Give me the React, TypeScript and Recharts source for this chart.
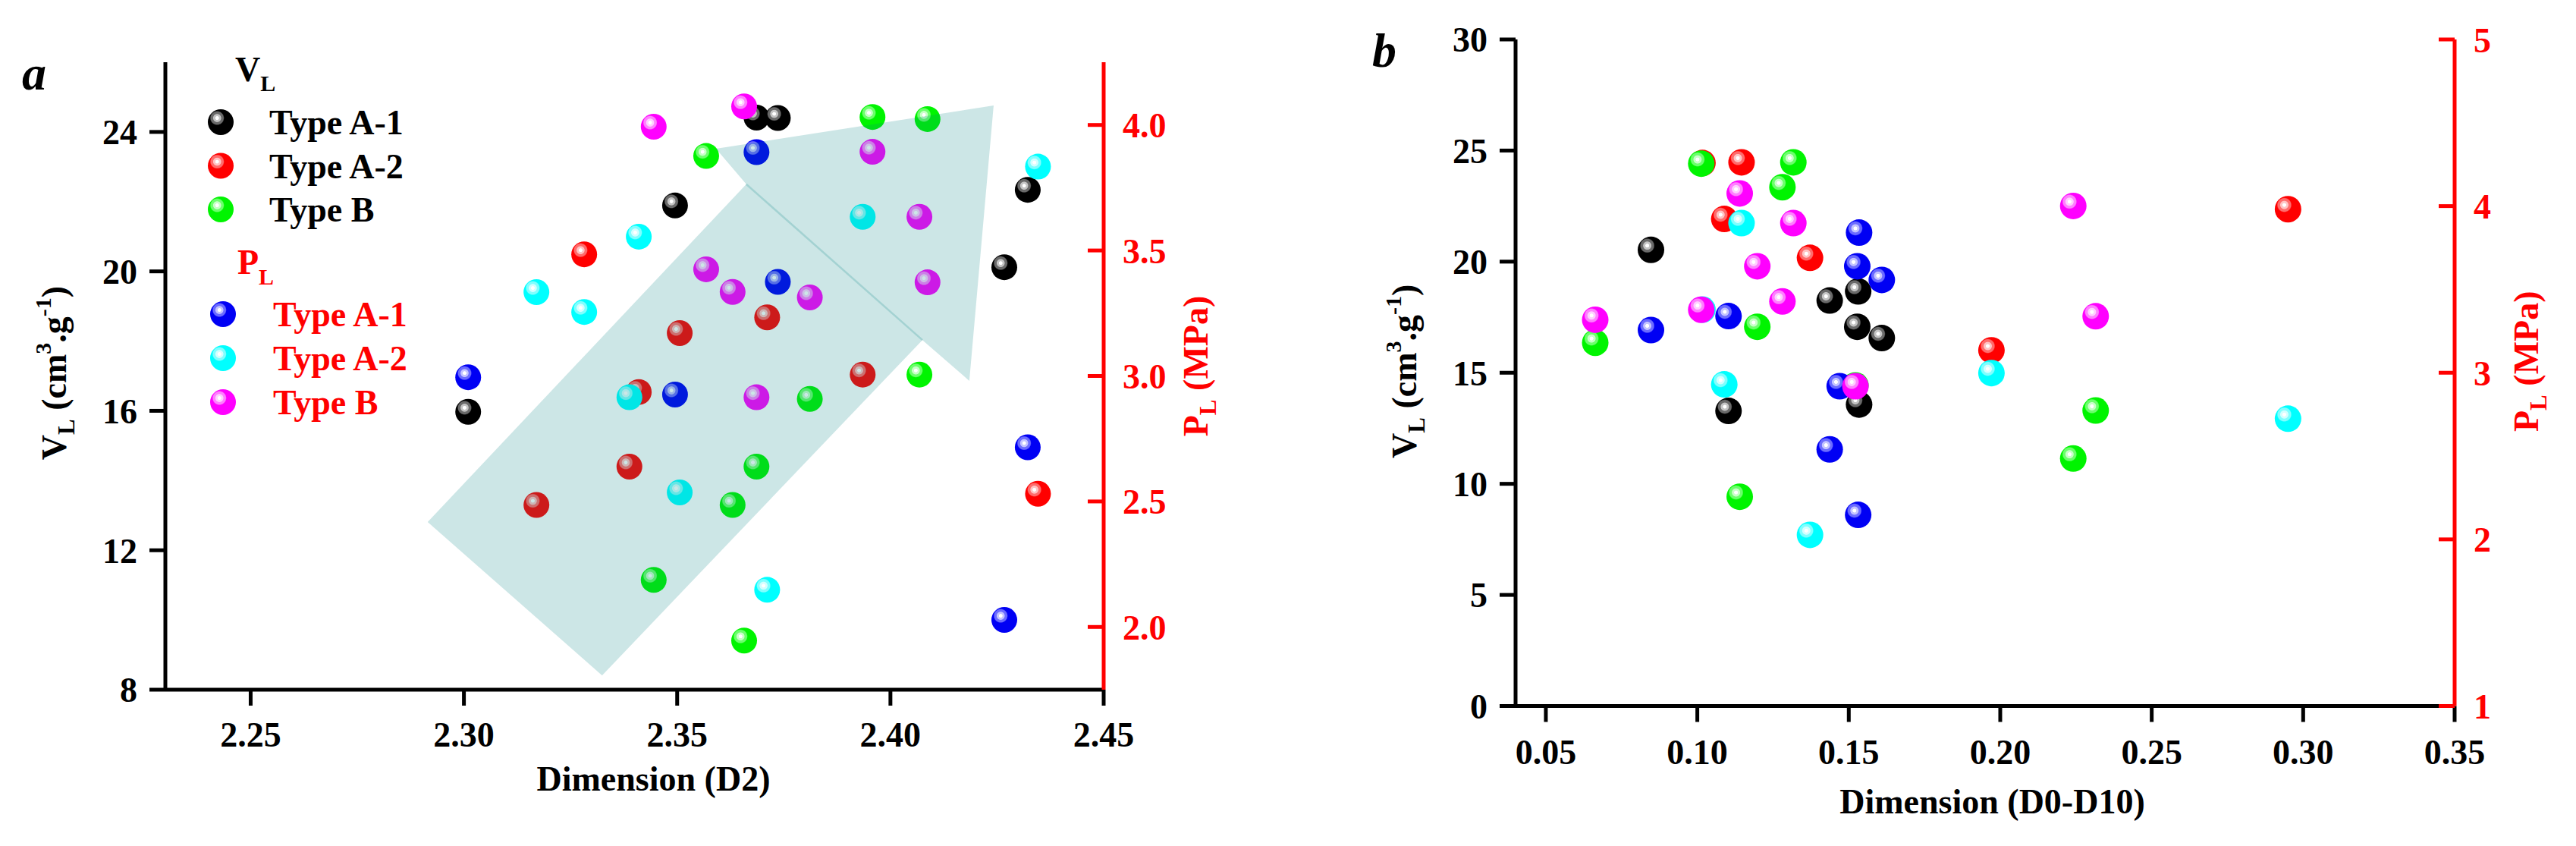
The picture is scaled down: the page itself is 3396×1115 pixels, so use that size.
import React from "react";
import { Legend, Scatter, ScatterChart, XAxis, YAxis } from "recharts";

const FONT = "'Liberation Serif', 'Times New Roman', Times, serif";
const RED = "#ff0000";

// ---------- panel a : Dimension (D2) ----------
const aD2TypeA1 = [2.301, 2.3495, 2.3686, 2.3736, 2.4267, 2.4322];
const aVlTypeA1 = [15.97, 21.89, 24.41, 24.4, 20.12, 22.34];
const aPlTypeA1 = [2.995, 2.926, 3.892, 3.375, 2.028, 2.716];

const aD2TypeA2 = [2.317, 2.3282, 2.3388, 2.341, 2.3506, 2.3711, 2.3935, 2.4346];
const aVlTypeA2 = [13.3, 20.49, 14.4, 16.54, 18.23, 18.68, 17.04, 13.62];
const aPlTypeA2 = [3.334, 3.255, 2.915, 3.555, 2.536, 2.148, 3.634, 3.834];

const aD2TypeB = [2.3445, 2.3568, 2.363, 2.3657, 2.3686, 2.3811, 2.3958, 2.4068, 2.4087];
const aVlTypeB = [11.15, 23.31, 13.3, 9.41, 14.4, 16.34, 24.43, 17.04, 24.37];
const aPlTypeB = [3.993, 3.425, 3.335, 4.074, 2.915, 3.313, 3.893, 3.634, 3.373];

const aTicksD2 = [2.25, 2.3, 2.35, 2.4, 2.45];
const aTicksVl = [8, 12, 16, 20, 24];
const aTicksPl = [2.0, 2.5, 3.0, 3.5, 4.0];

// outline of the shaded trend arrow, in (D2, VL) units
const arrowD2 = [2.2915, 2.3662, 2.3591, 2.4242, 2.4185, 2.4075, 2.3324];
const arrowVl = [12.81, 22.5, 23.52, 24.76, 16.86, 18.03, 8.41];

// ---------- panel b : Dimension (D0-D10) ----------
const bDimVlA1 = [0.0847, 0.1103, 0.1437, 0.1528, 0.1531, 0.1534, 0.1609];
const bVlA1 = [20.53, 13.28, 18.25, 17.07, 18.66, 13.57, 16.56];
const bDimPlA1 = [0.0847, 0.1103, 0.1437, 0.147, 0.1528, 0.1531, 0.1534, 0.1609];
const bPlA1 = [3.256, 3.34, 2.54, 2.919, 3.639, 2.147, 3.841, 3.557];

const bDimA2 = [0.1017, 0.1089, 0.1146, 0.1372, 0.1971, 0.295];
const bVlA2 = [24.44, 21.92, 24.47, 20.17, 16.01, 22.36];
const bPlA2 = [3.379, 2.93, 3.898, 2.027, 2.998, 2.724];

const bDimB = [0.0663, 0.1013, 0.114, 0.1198, 0.1281, 0.1317, 0.1522, 0.2241, 0.2315];
const bVlB = [16.35, 24.41, 9.42, 17.07, 23.35, 24.47, 14.43, 11.14, 13.3];
const bPlB = [3.318, 3.378, 4.076, 3.639, 3.428, 3.898, 2.919, 4.001, 3.339];

const bTicksDim = [0.05, 0.1, 0.15, 0.2, 0.25, 0.3, 0.35];
const bTicksVl = [0, 5, 10, 15, 20, 25, 30];
const bTicksPl = [1, 2, 3, 4, 5];

const typeNames = ["Type A-1", "Type A-2", "Type B"];
const vlSpheres = ["black", "red", "green"];
const plSpheres = ["blue", "cyan", "magenta"];

// base, mid ring, light ring
const sphereColors: Record<string, string[]> = {
  black: ["#000000", "#6a6a6a", "#c4c4c4"],
  red: ["#ff0000", "#ff6c6c", "#ffc4c4"],
  green: ["#00f400", "#6cff6c", "#c8ffc8"],
  blue: ["#0000f4", "#6c6cff", "#c4c4ff"],
  cyan: ["#00ffff", "#80ffff", "#d4ffff"],
  magenta: ["#ff00ff", "#ff80ff", "#ffd0ff"],
};

const pts = (xs: number[], ys: number[]) => xs.map((x, i) => ({ x, y: ys[i] }));

function SphereDefs() {
  return (
    <svg width={0} height={0} style={{ position: "absolute" }}>
      <defs>
        {Object.entries(sphereColors).map(([k, [base, mid, light]]) => (
          <radialGradient key={k} id={`sph-${k}`} cx="0.36" cy="0.34" r="0.62" fx="0.36" fy="0.34">
            <stop offset="0" stopColor="#ffffff" />
            <stop offset="0.1" stopColor="#ffffff" />
            <stop offset="0.13" stopColor={light} />
            <stop offset="0.23" stopColor={light} />
            <stop offset="0.27" stopColor={mid} />
            <stop offset="0.39" stopColor={mid} />
            <stop offset="0.45" stopColor={base} />
            <stop offset="1" stopColor={base} />
          </radialGradient>
        ))}
      </defs>
    </svg>
  );
}

const sphere = (k: string, r: number) => (p: any) =>
  p.cx == null ? <g /> : <circle cx={p.cx} cy={p.cy} r={r} fill={`url(#sph-${k})`} />;

const blackLine = { stroke: "#000", strokeWidth: 5 };
const blackTick = { fill: "#000", fontSize: 46, fontWeight: 700, fontFamily: FONT };

const redTick = (digits: number) => (p: any) => (
  <g>
    <line x1={p.x - 21} x2={p.x} y1={p.y} y2={p.y} stroke={RED} strokeWidth={5} />
    <text x={p.x + 25} y={p.y} dy="0.36em" textAnchor="start" fill={RED} fontSize={46} fontWeight={700} fontFamily={FONT}>
      {Number(p.payload.value).toFixed(digits)}
    </text>
  </g>
);

const xTitle = (text: string, dy: number, dx: number) => (p: any) => {
  const vb = p.viewBox;
  return (
    <text x={vb.x + vb.width / 2 + dx} y={vb.y + dy} textAnchor="middle" fill="#000" fontSize={46} fontWeight={700} fontFamily={FONT}>
      {text}
    </text>
  );
};

const vlTitle = (letter: string, dyc: number) => (p: any) => {
  const vb = p.viewBox;
  const bx = vb.x + vb.width - 131;
  const cy = vb.y + vb.height / 2 + dyc;
  return (
    <g>
      <text x={vb.x - 89} y={vb.y + 36} fill="#000" fontSize={64} fontStyle="italic" fontWeight={700} fontFamily={FONT}>
        {letter}
      </text>
      <text transform={`rotate(-90 ${bx} ${cy})`} x={bx} y={cy} textAnchor="middle" fill="#000" fontSize={46} fontWeight={700} fontFamily={FONT}>
        <tspan>V</tspan>
        <tspan fontSize={31} dy={11}>L</tspan>
        <tspan dy={-11}> (cm</tspan>
        <tspan fontSize={30} dy={-20}>3</tspan>
        <tspan dy={20}>.g</tspan>
        <tspan fontSize={30} dy={-20}>-1</tspan>
        <tspan dy={20}>)</tspan>
      </text>
    </g>
  );
};

const plTitle = (gap: number, dyc: number) => (p: any) => {
  const vb = p.viewBox;
  const bx = vb.x + gap;
  const cy = vb.y + vb.height / 2 + dyc;
  return (
    <text transform={`rotate(-90 ${bx} ${cy})`} x={bx} y={cy} textAnchor="middle" fill={RED} fontSize={46} fontWeight={700} fontFamily={FONT}>
      <tspan>P</tspan>
      <tspan fontSize={31} dy={11}>L</tspan>
      <tspan dy={-11}> (MPa)</tspan>
    </text>
  );
};

const arrowShape = (p: any) => {
  const v = p.points as { x: number; y: number }[];
  if (!v || v.length < 7) return <g />;
  return (
    <g>
      <polygon points={v.map((q) => `${q.x},${q.y}`).join(" ")} fill="#008080" fillOpacity={0.2} stroke="none" />
      <line x1={v[1].x} y1={v[1].y} x2={v[5].x} y2={v[5].y} stroke="#008080" strokeOpacity={0.2} strokeWidth={2.5} />
    </g>
  );
};

function PanelALegend() {
  const txt = { fontSize: 46, fontWeight: 700, fontFamily: FONT };
  return (
    <svg width={320} height={500} style={{ display: "block", overflow: "visible" }}>
      <text x={55} y={52} fill="#000" {...txt}>
        V<tspan fontSize={30} dy={13}>L</tspan>
      </text>
      {typeNames.map((name, i) => (
        <g key={`v${name}`}>
          <circle cx={36} cy={106 + i * 57.5} r={17} fill={`url(#sph-${vlSpheres[i]})`} />
          <text x={100} y={122 + i * 57.5} fill="#000" {...txt}>{name}</text>
        </g>
      ))}
      <text x={58} y={306} fill={RED} {...txt}>
        P<tspan fontSize={30} dy={14}>L</tspan>
      </text>
      {typeNames.map((name, i) => (
        <g key={`p${name}`}>
          <circle cx={39} cy={359 + i * 58} r={17} fill={`url(#sph-${plSpheres[i]})`} />
          <text x={105} y={375 + i * 58} fill={RED} {...txt}>{name}</text>
        </g>
      ))}
    </svg>
  );
}

function PanelA() {
  return (
    <ScatterChart width={1700} height={1115} margin={{ top: 82, right: 145, bottom: 146, left: 118 }}>
      <XAxis
        type="number"
        dataKey="x"
        domain={[2.23, 2.45]}
        ticks={aTicksD2}
        allowDataOverflow
        interval={0}
        height={60}
        tickFormatter={(v: number) => v.toFixed(2)}
        axisLine={blackLine}
        tickLine={blackLine}
        tickSize={21}
        tickMargin={21}
        tick={blackTick}
        label={xTitle("Dimension (D2)", 133, 25)}
      />
      <YAxis
        yAxisId="vl"
        type="number"
        dataKey="y"
        domain={[8, 26]}
        ticks={aTicksVl}
        allowDataOverflow
        interval={0}
        width={100}
        axisLine={blackLine}
        tickLine={blackLine}
        tickSize={21}
        tickMargin={16}
        tick={blackTick}
        label={vlTitle("a", -4)}
      />
      <YAxis
        yAxisId="pl"
        orientation="right"
        type="number"
        dataKey="y"
        domain={[1.75, 4.25]}
        ticks={aTicksPl}
        allowDataOverflow
        interval={0}
        width={100}
        axisLine={{ stroke: RED, strokeWidth: 5 }}
        tickLine={false}
        tickSize={0}
        tickMargin={0}
        tick={redTick(1)}
        label={plTitle(137, -13)}
      />
      <Scatter name="VL Type A-1" yAxisId="vl" data={pts(aD2TypeA1, aVlTypeA1)} shape={sphere("black", 17)} isAnimationActive={false} />
      <Scatter name="VL Type A-2" yAxisId="vl" data={pts(aD2TypeA2, aVlTypeA2)} shape={sphere("red", 17)} isAnimationActive={false} />
      <Scatter name="VL Type B" yAxisId="vl" data={pts(aD2TypeB, aVlTypeB)} shape={sphere("green", 17)} isAnimationActive={false} />
      <Scatter name="PL Type A-1" yAxisId="pl" data={pts(aD2TypeA1, aPlTypeA1)} shape={sphere("blue", 17)} isAnimationActive={false} />
      <Scatter name="PL Type A-2" yAxisId="pl" data={pts(aD2TypeA2, aPlTypeA2)} shape={sphere("cyan", 17)} isAnimationActive={false} />
      <Scatter name="PL Type B" yAxisId="pl" data={pts(aD2TypeB, aPlTypeB)} shape={sphere("magenta", 17)} isAnimationActive={false} />
      <Scatter
        name="trend"
        yAxisId="vl"
        data={pts(arrowD2, arrowVl)}
        shape={() => <g />}
        line={arrowShape}
        lineType="joint"
        legendType="none"
        isAnimationActive={false}
      />
      <Legend
        layout="vertical"
        align="center"
        verticalAlign="middle"
        wrapperStyle={{ left: 255, top: 55, width: 320, height: 500 }}
        content={() => <PanelALegend />}
      />
    </ScatterChart>
  );
}

function PanelB() {
  return (
    <ScatterChart width={1696} height={1115} margin={{ top: 52, right: 60, bottom: 124.5, left: 198 }}>
      <XAxis
        type="number"
        dataKey="x"
        domain={[0.04, 0.35]}
        ticks={bTicksDim}
        allowDataOverflow
        interval={0}
        height={60}
        tickFormatter={(v: number) => v.toFixed(2)}
        axisLine={blackLine}
        tickLine={blackLine}
        tickSize={21}
        tickMargin={23}
        tick={blackTick}
        label={xTitle("Dimension (D0-D10)", 141.5, 9.5)}
      />
      <YAxis
        yAxisId="vl"
        type="number"
        dataKey="y"
        domain={[0, 30]}
        ticks={bTicksVl}
        allowDataOverflow
        interval={0}
        width={100}
        axisLine={blackLine}
        tickLine={blackLine}
        tickSize={21}
        tickMargin={16}
        tick={blackTick}
        label={vlTitle("b", -2)}
      />
      <YAxis
        yAxisId="pl"
        orientation="right"
        type="number"
        dataKey="y"
        domain={[1, 5]}
        ticks={bTicksPl}
        allowDataOverflow
        interval={0}
        width={100}
        axisLine={{ stroke: RED, strokeWidth: 5 }}
        tickLine={false}
        tickSize={0}
        tickMargin={0}
        tick={redTick(0)}
        label={plTitle(110, -15)}
      />
      <Scatter name="VL Type A-1" yAxisId="vl" data={pts(bDimVlA1, bVlA1)} shape={sphere("black", 17.5)} isAnimationActive={false} />
      <Scatter name="VL Type A-2" yAxisId="vl" data={pts(bDimA2, bVlA2)} shape={sphere("red", 17.5)} isAnimationActive={false} />
      <Scatter name="VL Type B" yAxisId="vl" data={pts(bDimB, bVlB)} shape={sphere("green", 17.5)} isAnimationActive={false} />
      <Scatter name="PL Type A-1" yAxisId="pl" data={pts(bDimPlA1, bPlA1)} shape={sphere("blue", 17.5)} isAnimationActive={false} />
      <Scatter name="PL Type A-2" yAxisId="pl" data={pts(bDimA2, bPlA2)} shape={sphere("cyan", 17.5)} isAnimationActive={false} />
      <Scatter name="PL Type B" yAxisId="pl" data={pts(bDimB, bPlB)} shape={sphere("magenta", 17.5)} isAnimationActive={false} />
    </ScatterChart>
  );
}

export default function App() {
  return (
    <div style={{ position: "absolute", left: 0, top: 0, width: 3396, height: 1115, background: "#fff" }}>
      <SphereDefs />
      <div style={{ position: "absolute", left: 0, top: 0 }}>
        <PanelA />
      </div>
      <div style={{ position: "absolute", left: 1700, top: 0 }}>
        <PanelB />
      </div>
    </div>
  );
}
